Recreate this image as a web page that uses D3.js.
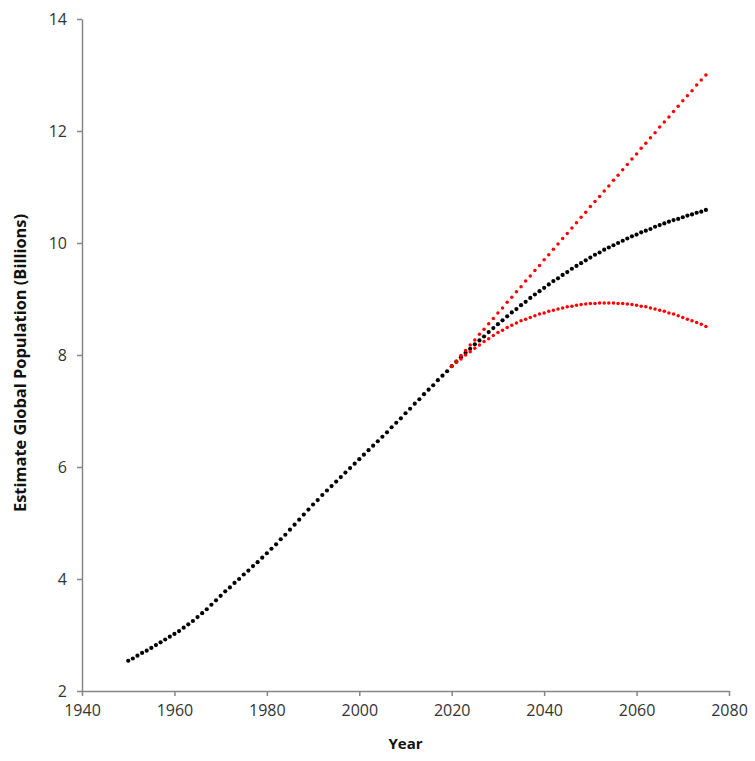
<!DOCTYPE html>
<html>
<head>
<meta charset="utf-8">
<script src="https://cdn.jsdelivr.net/npm/d3@7"></script>
<style>
  body { margin: 0; background: #fff; }
  text { font-family: "Open Sans", "Noto Sans", sans-serif; }
</style>
</head>
<body>
<div id="vis"></div>
<script>
// Annual values (billions)
const startYear = 1950;
const medium = [
  2.54, 2.58, 2.63, 2.68, 2.72, 2.77, 2.82, 2.87, 2.92, 2.97,   // 1950s
  3.02, 3.07, 3.13, 3.19, 3.25, 3.32, 3.39, 3.46, 3.54, 3.62,   // 1960s
  3.70, 3.78, 3.85, 3.93, 4.00, 4.08, 4.15, 4.23, 4.30, 4.38,   // 1970s
  4.46, 4.54, 4.62, 4.71, 4.79, 4.88, 4.97, 5.06, 5.15, 5.24,   // 1980s
  5.33, 5.41, 5.50, 5.58, 5.66, 5.74, 5.82, 5.90, 5.98, 6.06,   // 1990s
  6.14, 6.22, 6.30, 6.38, 6.46, 6.54, 6.62, 6.71, 6.79, 6.87,   // 2000s
  6.96, 7.04, 7.13, 7.21, 7.30, 7.38, 7.46, 7.55, 7.63, 7.71,   // 2010s
  7.80, 7.88, 7.96, 8.04, 8.11, 8.19, 8.26, 8.33, 8.41, 8.48,   // 2020s
  8.55, 8.62, 8.69, 8.76, 8.82, 8.89, 8.95, 9.02, 9.08, 9.14,   // 2030s
  9.20, 9.26, 9.32, 9.37, 9.43, 9.48, 9.54, 9.59, 9.64, 9.69,   // 2040s
  9.74, 9.79, 9.83, 9.88, 9.92, 9.96, 10.00, 10.04, 10.08, 10.12, // 2050s
  10.15, 10.19, 10.22, 10.25, 10.29, 10.32, 10.35, 10.38, 10.41, 10.43, // 2060s
  10.46, 10.49, 10.51, 10.54, 10.56, 10.59                      // 2070-2075
];

const projStart = 2020;
const high = [
  7.80, 7.89, 7.99, 8.08, 8.18, 8.27, 8.37, 8.46, 8.56, 8.65,
  8.75, 8.84, 8.94, 9.03, 9.13, 9.22, 9.32, 9.41, 9.51, 9.60,
  9.70, 9.79, 9.89, 9.98, 10.08, 10.17, 10.27, 10.36, 10.46, 10.55,
  10.65, 10.74, 10.83, 10.93, 11.02, 11.12, 11.21, 11.31, 11.40, 11.50,
  11.59, 11.69, 11.78, 11.88, 11.97, 12.07, 12.16, 12.25, 12.35, 12.44,
  12.54, 12.63, 12.72, 12.82, 12.91, 13.00
];
const low = [
  7.80, 7.87, 7.93, 8.00, 8.06, 8.12, 8.18, 8.24, 8.29, 8.35,
  8.40, 8.44, 8.49, 8.53, 8.57, 8.61, 8.64, 8.67, 8.70, 8.73,
  8.75, 8.78, 8.80, 8.82, 8.84, 8.86, 8.87, 8.89, 8.90, 8.91,
  8.92, 8.92, 8.93, 8.93, 8.93, 8.93, 8.92, 8.92, 8.91, 8.90,
  8.89, 8.87, 8.86, 8.84, 8.82, 8.80, 8.78, 8.75, 8.73, 8.70,
  8.67, 8.64, 8.61, 8.58, 8.55, 8.51
];

const xTicks = [1940, 1960, 1980, 2000, 2020, 2040, 2060, 2080];
const yTicks = [2, 4, 6, 8, 10, 12, 14];

const margin = { top: 19, right: 26, bottom: 70, left: 82 };
const width = 755 - margin.left - margin.right;
const height = 761 - margin.top - margin.bottom;

const svg = d3.select("#vis")
  .append("svg")
  .attr("width", 755)
  .attr("height", 761)
  .append("g")
  .attr("transform", `translate(${margin.left},${margin.top})`);

const xScale = d3.scaleLinear().domain([1940, 2080]).range([0, width]);
const yScale = d3.scaleLinear().domain([2, 14]).range([height, 0]);

const axisColor = "#868686";

// x axis
const xAxis = svg.append("g")
  .attr("transform", `translate(0,${height})`)
  .call(d3.axisBottom(xScale).tickValues(xTicks).tickFormat(d3.format("d")).tickSize(5).tickSizeOuter(0));

// y axis
const yAxis = svg.append("g")
  .call(d3.axisLeft(yScale).tickValues(yTicks).tickSize(5).tickSizeOuter(0));

[xAxis, yAxis].forEach(a => {
  a.select(".domain").attr("stroke", axisColor).attr("stroke-width", 1.5);
  a.selectAll(".tick line").attr("stroke", axisColor).attr("stroke-width", 1.5);
  a.selectAll(".tick text")
    .attr("fill", "#333")
    .style("font-size", "16px");
});
xAxis.selectAll(".tick text").attr("dy", "0.71em").attr("y", 14);
yAxis.selectAll(".tick text").attr("x", -15);

// axis labels
svg.append("text")
  .attr("x", width / 2)
  .attr("y", height + 58)
  .attr("text-anchor", "middle")
  .style("font-size", "15px")
  .style("font-weight", "bold")
  .attr("fill", "#111")
  .text("Year");

svg.append("text")
  .attr("transform", "rotate(-90)")
  .attr("x", -(363 - margin.top))
  .attr("y", -56)
  .attr("text-anchor", "middle")
  .style("font-size", "16.4px")
  .style("font-weight", "bold")
  .attr("fill", "#111")
  .text("Estimate Global Population (Billions)");

// one marker per year
function drawMarkers(first, values, color, r) {
  svg.append("g")
    .selectAll("circle")
    .data(values)
    .enter()
    .append("circle")
    .attr("cx", (d, i) => xScale(first + i))
    .attr("cy", d => yScale(d))
    .attr("r", r)
    .attr("fill", color);
}

drawMarkers(startYear, medium, "#000000", 2.1);
drawMarkers(projStart, high, "#ff0000", 1.75);
drawMarkers(projStart, low, "#ff0000", 1.75);
</script>
</body>
</html>
